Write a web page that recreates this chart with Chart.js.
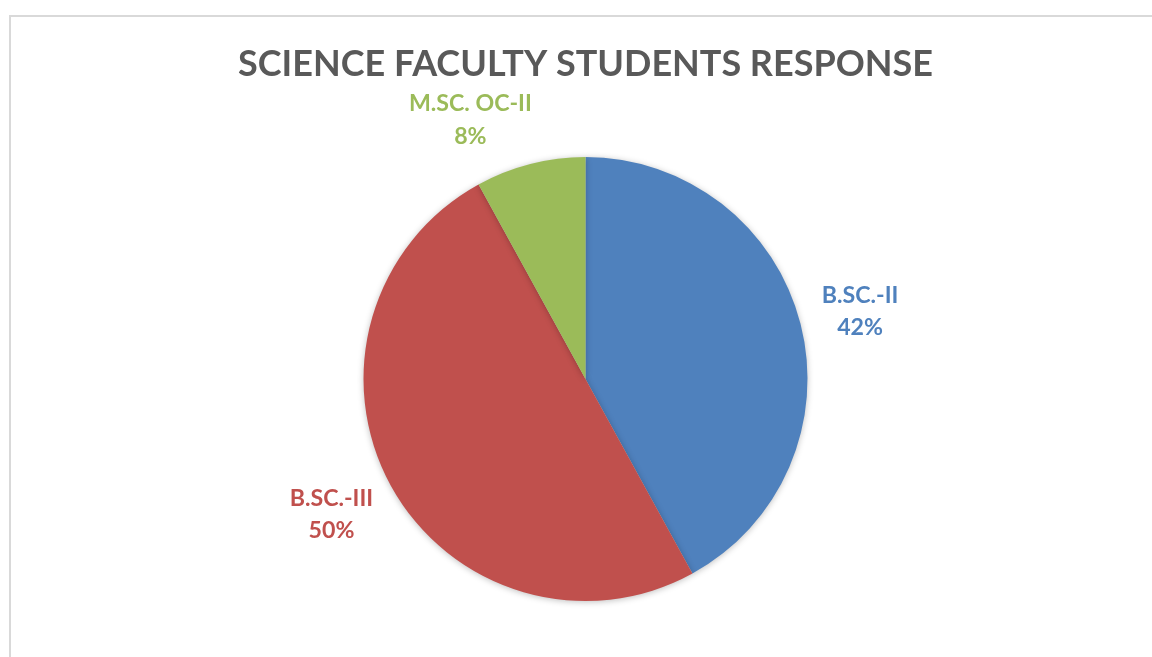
<!DOCTYPE html>
<html>
<head>
<meta charset="utf-8">
<script src="https://cdn.jsdelivr.net/npm/chart.js@4.4.1/dist/chart.umd.min.js"></script>
<style>
  html, body { margin: 0; padding: 0; background: #fff; }
  #wrap { width: 1152px; height: 657px; position: relative; }
</style>
</head>
<body>
<div id="wrap"><canvas id="grafico"></canvas></div>
<script>
const categories = ["B.SC.-II", "B.SC.-III", "M.SC. OC-II"];
const responseShare = [42, 50, 8];
const percentLabels = ["42%", "50%", "8%"];
const chartTitle = "SCIENCE FACULTY STUDENTS RESPONSE";

const sliceColors = ["#4F81BD", "#C0504D", "#9BBB59"];
const fontFamily = "Lato, 'Open Sans', sans-serif";

// ajusta o tamanho da fonte para a largura medida na imagem
function tamanhoParaLargura(texto, largura, peso) {
  const ctx = document.createElement("canvas").getContext("2d");
  ctx.font = `${peso} 100px ${fontFamily}`;
  return 100 * largura / ctx.measureText(texto).width;
}

const tituloSize = tamanhoParaLargura(chartTitle, 695, "bold");
const rotuloSize = tamanhoParaLargura("M.SC. OC-II", 123, "bold");

// deslocamento extra de cada rótulo (px) a partir da direção do meio da fatia
const ajusteRotulo = [[1.5, 3], [-7, 0], [-45, 14.5]];

const molduraPlugin = {
  id: "moldura",
  beforeDraw(chart) {
    const ctx = chart.ctx;
    ctx.save();
    ctx.fillStyle = "#fff";
    ctx.fillRect(0, 0, chart.width, chart.height);
    ctx.strokeStyle = "#d9d9d9";
    ctx.lineWidth = 2;
    ctx.strokeRect(10, 16, chart.width + 20, chart.height + 20);
    ctx.restore();
  },
  beforeDatasetsDraw(chart) {
    const ctx = chart.ctx;
    ctx.save();
    ctx.shadowColor = "rgba(0,0,0,0.25)";
    ctx.shadowBlur = 6;
    ctx.shadowOffsetX = 0;
    ctx.shadowOffsetY = 1;
  },
  afterDatasetsDraw(chart) {
    chart.ctx.restore();
  },
  afterDraw(chart) {
    const ctx = chart.ctx;
    ctx.save();
    ctx.textAlign = "center";
    ctx.textBaseline = "alphabetic";
    ctx.fillStyle = "#595959";
    ctx.font = `bold ${tituloSize}px ${fontFamily}`;
    ctx.fillText(chartTitle, 585.5, 76);

    ctx.font = `bold ${rotuloSize}px ${fontFamily}`;
    const arcos = chart.getDatasetMeta(0).data;
    arcos.forEach((arco, i) => {
      const meio = (arco.startAngle + arco.endAngle) / 2;
      const r = arco.outerRadius * 1.27;
      const x = arco.x + Math.cos(meio) * r + ajusteRotulo[i][0];
      const y = arco.y + Math.sin(meio) * r + ajusteRotulo[i][1];
      ctx.fillStyle = sliceColors[i];
      ctx.fillText(categories[i], x, y - 9);
      ctx.fillText(percentLabels[i], x, y + 23.5);
    });
    ctx.restore();
  }
};

new Chart(document.getElementById("grafico"), {
  type: "pie",
  data: {
    labels: categories,
    datasets: [{
      data: responseShare,
      backgroundColor: sliceColors,
      borderWidth: 0,
      hoverOffset: 0
    }]
  },
  options: {
    responsive: true,
    maintainAspectRatio: false,
    animation: false,
    layout: {
      padding: { top: 157, bottom: 56, left: 100, right: 81 }
    },
    plugins: {
      legend: { display: false },
      tooltip: { enabled: false },
      title: { display: false }
    }
  },
  plugins: [molduraPlugin]
});
</script>
</body>
</html>
